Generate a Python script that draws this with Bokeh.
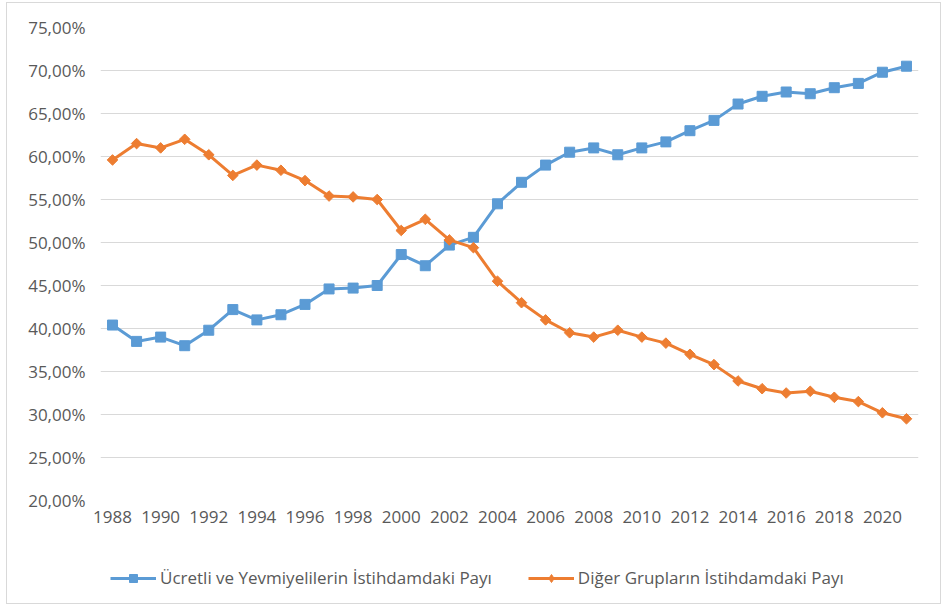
from bokeh.plotting import figure
from bokeh.layouts import column
from bokeh.models import ColumnDataSource, FixedTicker, Legend, LegendItem, Range1d
from bokeh.embed import file_html
from bokeh.resources import INLINE

years = list(range(1988, 2022))
wage_share = [40.4, 38.5, 39.0, 38.0, 39.8, 42.2, 41.0, 41.6, 42.8, 44.6,
              44.7, 45.0, 48.6, 47.3, 49.7, 50.6, 54.5, 57.0, 59.0, 60.5,
              61.0, 60.2, 61.0, 61.7, 63.0, 64.2, 66.1, 67.0, 67.5, 67.3,
              68.0, 68.5, 69.8, 70.5]
other_share = [59.6, 61.5, 61.0, 62.0, 60.2, 57.8, 59.0, 58.4, 57.2, 55.4,
               55.3, 55.0, 51.4, 52.7, 50.3, 49.4, 45.5, 43.0, 41.0, 39.5,
               39.0, 39.8, 39.0, 38.3, 37.0, 35.8, 33.9, 33.0, 32.5, 32.7,
               32.0, 31.5, 30.2, 29.5]
series_names = ["Ücretli ve Yevmiyelilerin İstihdamdaki Payı",
                "Diğer Grupların İstihdamdaki Payı"]
x_ticks = list(range(1988, 2021, 2))
y_ticks = [20, 25, 30, 35, 40, 45, 50, 55, 60, 65, 70, 75]
y_tick_labels = ["20,00%", "25,00%", "30,00%", "35,00%", "40,00%", "45,00%",
                 "50,00%", "55,00%", "60,00%", "65,00%", "70,00%", "75,00%"]

BLUE = "#5B9BD5"
ORANGE = "#ED7D31"
TEXT = "#595959"
FONT = "Open Sans"
FSIZE = "17px"

src = ColumnDataSource(dict(year=years, wage=wage_share, other=other_share))

# main chart
p = figure(width=933, height=534, output_backend="svg",
           toolbar_location=None, x_range=Range1d(1987.5, 2021.5),
           y_range=Range1d(20, 75), min_border_left=93, min_border_right=22,
           min_border_top=24, min_border_bottom=37,
           background_fill_color="white", border_fill_color="white")
p.outline_line_color = None

p.line("year", "wage", source=src, line_color=BLUE, line_width=3)
p.scatter("year", "wage", source=src, marker="square", size=10,
          fill_color=BLUE, line_color=BLUE)
p.line("year", "other", source=src, line_color=ORANGE, line_width=3)
p.scatter("year", "other", source=src, marker="square", angle=0.785398,
          size=7.5, fill_color=ORANGE, line_color=ORANGE)

p.xgrid.visible = False
p.ygrid.grid_line_color = "#D9D9D9"
p.ygrid.grid_line_width = 1
p.ygrid.ticker = FixedTicker(ticks=y_ticks)

p.yaxis.ticker = FixedTicker(ticks=y_ticks)
p.yaxis.major_label_overrides = {t: s for t, s in zip(y_ticks, y_tick_labels)}
p.xaxis.ticker = FixedTicker(ticks=x_ticks)
for ax in (p.xaxis[0], p.yaxis[0]):
    ax.axis_line_color = None
    ax.major_tick_line_color = None
    ax.minor_tick_line_color = None
    ax.major_tick_out = 0
    ax.major_tick_in = 0
    ax.major_label_text_font = FONT
    ax.major_label_text_font_size = FSIZE
    ax.major_label_text_color = TEXT
p.yaxis.major_label_standoff = 15
p.xaxis.major_label_standoff = 10

# legend strip below the chart (its series glyphs lie outside its view)
lf = figure(width=933, height=66, output_backend="svg", toolbar_location=None,
            x_range=Range1d(1987.5, 2021.5), y_range=Range1d(0, 1),
            min_border_left=0, min_border_right=0, min_border_top=0,
            min_border_bottom=0, background_fill_color="white",
            border_fill_color="white")
lf.outline_line_color = None
lf.axis.visible = False
lf.grid.visible = False
g1 = [lf.line("year", "wage", source=src, line_color=BLUE, line_width=3),
      lf.scatter("year", "wage", source=src, marker="square", size=9,
                 fill_color=BLUE, line_color=BLUE)]
g2 = [lf.line("year", "other", source=src, line_color=ORANGE, line_width=3),
      lf.scatter("year", "other", source=src, marker="diamond", size=12,
                 fill_color=ORANGE, line_color=ORANGE)]
legend = Legend(items=[LegendItem(label=series_names[0], renderers=g1),
                       LegendItem(label=series_names[1], renderers=g2)],
                orientation="horizontal", location=(10, 14),
                glyph_width=46, glyph_height=20, label_standoff=4, spacing=36,
                label_text_font=FONT, label_text_font_size=FSIZE,
                label_text_color=TEXT, border_line_color=None,
                background_fill_alpha=0, margin=0, padding=0)
lf.add_layout(legend, "center")

layout = column(p, lf, spacing=0)
layout.styles = {"border": "1px solid #d9d9d9", "margin-left": "6px",
                 "margin-top": "2px"}

open("out.html", "w").write(file_html(layout, INLINE))
